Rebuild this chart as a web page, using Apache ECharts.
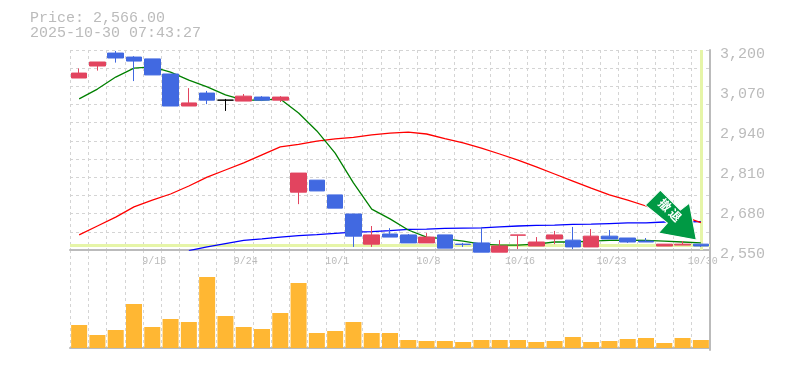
<!DOCTYPE html>
<html>
<head>
<meta charset="utf-8">
<style>
html, body { margin: 0; padding: 0; background: #fff; }
#main { width: 785px; height: 370px; }
</style>
<script src="https://cdn.jsdelivr.net/npm/echarts@6/dist/echarts.min.js"></script>
</head>
<body>
<div id="main"></div>
<script>
// 日付
var dates = ["9/10","9/11","9/12","9/15","9/16","9/17","9/18","9/19","9/22","9/24","9/25","9/26","9/29","9/30","10/1","10/2","10/3","10/6","10/7","10/8","10/9","10/10","10/14","10/15","10/16","10/17","10/20","10/21","10/22","10/23","10/24","10/27","10/28","10/29","10/30"];
// open, close, low, high
var candles = [
	[3109,3125,3109,3140],[3148,3161,3133,3161],[3190,3174,3159,3197],[3177,3164,3099,3180],[3171,3119,3119,3171],
	[3122,3018,3018,3122],[3018,3028,3018,3076],[3060,3037,3024,3067],[3037,3037,3002,3041],[3034,3050,3034,3057],
	[3047,3037,3034,3050],[3037,3047,3031,3050],[2738,2800,2699,2800],[2777,2742,2742,2777],[2729,2686,2686,2729],
	[2667,2595,2560,2667],[2569,2599,2560,2628],[2602,2592,2592,2621],[2599,2573,2573,2602],[2573,2592,2573,2605],
	[2599,2556,2556,2599],[2569,2568,2560,2573],[2573,2543,2543,2625],[2543,2563,2543,2582],[2598,2599,2553,2599],
	[2563,2576,2563,2592],[2586,2599,2569,2612],[2582,2560,2553,2625],[2560,2595,2560,2618],[2595,2586,2586,2615],
	[2589,2576,2573,2589],[2579,2576,2576,2589],[2563,2569,2563,2569],[2566,2569,2566,2579],[2569,2563,2560,2569]
];
var maShort = [3041,3073,3112,3141,3145,3128,3102,3080,3054,3037,3037,3041,2995,2937,2865,2768,2683,2651,2615,2592,2586,2579,2569,2566,2566,2569,2576,2576,2579,2581,2582,2581,2579,2576,2573];
var maMiddle = [2599,2628,2657,2690,2712,2732,2758,2787,2810,2833,2859,2885,2893,2904,2911,2916,2924,2930,2933,2927,2912,2898,2881,2862,2842,2820,2797,2774,2751,2729,2712,2693,2677,2660,2639];
var maLong = [null,null,null,null,null,null,2548,2560,2571,2581,2586,2592,2597,2600,2604,2608,2610,2613,2617,2618,2620,2621,2622,2625,2628,2630,2631,2633,2634,2636,2638,2638,2641,2641,2642];
// 出来高 (千株)
var volumes = [23,13,18,44,21,29,26,71,32,21,19,35,65,15,17,26,15,15,8,7,7,6,8,8,8,6,7,11,6,7,9,10,5,10,8];
var lastPrice = 2566;
var lastTime = "2025-10-30 07:43:27";

var monoFont = '"Liberation Mono", monospace';
var dashLine = { color: "#d4d4d4", type: [3, 3], width: 1 };
var axisLine = { show: true, lineStyle: { color: "#bbbbbb", width: 2 } };

var myChart = echarts.init(document.getElementById("main"), null, { renderer: "canvas" });

var arrowPath = "path://M15,0 L35,20 L44,13 L51,50 L13,43 L22,33 L0,15 Z";

var option = {
	animation: false,
	backgroundColor: "#ffffff",
	title: {
		left: 25,
		top: 6,
		text: "Price: " + lastPrice.toLocaleString("en-US", { minimumFractionDigits: 2 }) + "\n" + lastTime,
		textStyle: { fontFamily: monoFont, fontSize: 15, fontWeight: "normal", color: "#bbbbbb", lineHeight: 15 },
	},
	grid: [
		{ left: 70, right: 75, top: 50, height: 200 },
		{ left: 70, right: 75, top: 250, height: 100 },
	],
	xAxis: [
		{
			type: "category",
			data: dates,
			gridIndex: 0,
			position: "bottom",
			axisLine: axisLine,
			axisTick: { show: false },
			axisLabel: {
				interval: function (i) { return i % 5 === 4; },
				fontFamily: monoFont,
				fontSize: 10,
				color: "#bbbbbb",
				margin: 6,
				padding: [0, 0, 0, 4],
			},
			splitLine: { show: true, interval: 0, lineStyle: dashLine },
		},
		{
			type: "category",
			data: dates,
			gridIndex: 1,
			axisLine: axisLine,
			axisTick: { show: false },
			axisLabel: { show: false },
			splitLine: { show: true, interval: 0, lineStyle: dashLine },
		},
	],
	yAxis: [
		{
			type: "value",
			gridIndex: 0,
			position: "right",
			min: 2550,
			max: 3200,
			interval: 130,
			axisLine: axisLine,
			axisTick: { show: false },
			axisLabel: {
				fontFamily: monoFont,
				fontSize: 15,
				color: "#bbbbbb",
				margin: 10,
				verticalAlign: "top",
				lineHeight: 8,
				formatter: function (v) { return v.toLocaleString("en-US"); },
			},
			splitLine: { show: false },
		},
		{
			// 横の点線だけ
			type: "value",
			gridIndex: 0,
			position: "left",
			min: 0,
			max: 11,
			interval: 1,
			axisLine: { show: false },
			axisTick: { show: false },
			axisLabel: { show: false },
			splitLine: { show: true, lineStyle: dashLine },
		},
		{
			type: "value",
			gridIndex: 1,
			position: "right",
			min: -2,
			max: 98,
			axisLine: axisLine,
			axisTick: { show: false },
			axisLabel: { show: false },
			splitLine: { show: false },
		},
	],
	series: [
		{
			name: "long",
			type: "line",
			data: maLong,
			yAxisIndex: 0,
			symbol: "none",
			z: 3,
			lineStyle: { color: "#0000ff", width: 1.3 },
		},
		{
			name: "middle",
			type: "line",
			data: maMiddle,
			yAxisIndex: 0,
			symbol: "none",
			z: 3,
			lineStyle: { color: "#ff0000", width: 1.3 },
		},
		{
			name: "short",
			type: "line",
			data: maShort,
			yAxisIndex: 0,
			symbol: "none",
			z: 3,
			lineStyle: { color: "#008000", width: 1.3 },
		},
		{
			name: "price",
			type: "candlestick",
			data: candles,
			xAxisIndex: 0,
			yAxisIndex: 0,
			barWidth: 16,
			clip: false,
			z: 4,
			itemStyle: {
				color: "#e2445f",
				color0: "#4169e1",
				borderColor: "#e2445f",
				borderColor0: "#4169e1",
				borderColorDoji: "#000000",
				borderWidth: 1,
			},
			// 現在値のライン
			markLine: {
				silent: true,
				symbol: "none",
				animation: false,
				label: { show: false },
				lineStyle: { color: "#e6f5a8", width: 3, type: "solid" },
				z: 2,
				data: [{ yAxis: lastPrice }, { xAxis: dates[dates.length - 1] }],
			},
			// 撤退サイン
			markPoint: {
				silent: true,
				animation: false,
				z: 6,
				data: [
					{
						coord: [dates[dates.length - 1], lastPrice],
						symbol: arrowPath,
						symbolSize: [51, 50],
						symbolOffset: [-30, -30],
						itemStyle: { color: "#009944", borderColor: "#ffffff", borderWidth: 1 },
						label: {
							show: true,
							position: "inside",
							formatter: "撤\u2009退",
							rotate: -45,
							offset: [-4, -3],
							color: "#ffffff",
							fontFamily: '"Noto Sans CJK JP", sans-serif',
							fontWeight: "bold",
							fontSize: 12,
						},
					},
				],
			},
		},
		{
			name: "volume",
			type: "bar",
			data: volumes,
			xAxisIndex: 1,
			yAxisIndex: 2,
			barWidth: 16,
			z: 4,
			itemStyle: { color: "#ffb733" },
		},
	],
};
myChart.setOption(option);
</script>
</body>
</html>
